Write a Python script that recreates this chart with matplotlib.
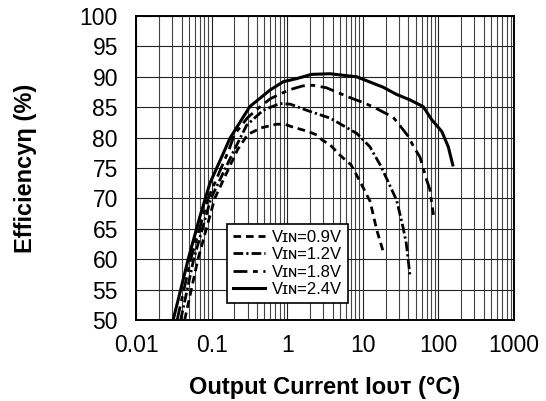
import numpy as np
import matplotlib
matplotlib.use("Agg")
import matplotlib.pyplot as plt
from matplotlib.ticker import FixedLocator, LogLocator, NullFormatter

plt.rcParams['font.family'] = ['Liberation Sans', 'DejaVu Sans']
plt.rcParams['lines.scale_dashes'] = False

# efficiency curves (x = output current, y = efficiency %)
x_09 = [0.044, 0.066, 0.11, 0.22, 0.30, 0.45, 0.72, 0.93, 1.14, 1.47, 1.9, 2.5, 2.9, 3.7, 5.0, 7.0, 9.0, 12.5, 15.3, 19.2]
y_09 = [50, 60, 70, 78, 80.5, 81.6, 82.2, 82.2, 81.8, 81.4, 81.0, 80.4, 79.6, 78.8, 77.1, 75.5, 73.0, 69.5, 64.8, 60.7]

x_12 = [0.039, 0.058, 0.098, 0.20, 0.29, 0.48, 0.8, 1.1, 1.8, 3.7, 8.3, 12.4, 17, 21.7, 28, 34, 37.6, 42]
y_12 = [50, 60, 70, 78, 82, 84.5, 85.6, 85.5, 84.5, 83.2, 80.7, 78.5, 75.5, 72.7, 69.7, 65.3, 62.6, 57.4]

x_18 = [0.035, 0.053, 0.09, 0.17, 0.2, 0.3, 0.45, 0.6, 0.85, 1.1, 1.6, 2.2, 3.3, 4.7, 7, 10, 14, 20, 25, 30, 40, 47, 57, 63, 70, 77, 81, 86]
y_18 = [50, 60, 70, 78, 80.5, 83.3, 85.2, 86.4, 87.3, 87.9, 88.5, 88.6, 88.2, 87.4, 86.5, 85.8, 85.0, 84.0, 83.4, 82.2, 80.2, 78.5, 76.8, 75, 73, 71.5, 69.5, 67.3]

x_24 = [0.031, 0.039, 0.049, 0.07, 0.095, 0.15, 0.175, 0.32, 0.59, 0.89, 1.33, 2.1, 3.7, 8.3, 15.3, 18.5, 28, 42, 63, 81, 111, 135, 155]
y_24 = [50, 55, 60, 67, 72.5, 78, 79.9, 85.1, 87.8, 89.2, 89.7, 90.4, 90.5, 90.0, 88.7, 88.3, 87.1, 86.2, 85.1, 83.0, 81.0, 78.5, 75.5]

x_ticks = [0.01, 0.1, 1, 10, 100, 1000]
x_ticklabels = ['0.01', '0.1', '1', '10', '100', '1000']
y_ticks = list(range(50, 101, 5))

labels = ['V\u026a\u0274=0.9V', 'V\u026a\u0274=1.2V', 'V\u026a\u0274=1.8V', 'V\u026a\u0274=2.4V']

fig = plt.figure(figsize=(5.46, 4.01), dpi=100)
ax = fig.add_axes([136/546, 1-320/401, 378/546, 304/401])

lw = 2.0
ax.plot(x_09, y_09, color='black', lw=lw, linestyle=(0, (5.5, 3.5)), label=labels[0])
ax.plot(x_12, y_12, color='black', lw=lw, linestyle=(0, (7, 2.2, 1.6, 2.2)), label=labels[1])
ax.plot(x_18, y_18, color='black', lw=lw, linestyle=(0, (10, 4, 3.5, 4)), label=labels[2])
ax.plot(x_24, y_24, color='black', lw=2.2, linestyle='-', label=labels[3])

ax.set_xscale('log')
ax.set_xlim(0.01, 1000)
ax.set_ylim(50, 100)
ax.xaxis.set_major_locator(FixedLocator(x_ticks))
ax.set_xticklabels(x_ticklabels)
ax.xaxis.set_minor_locator(LogLocator(base=10, subs=np.arange(2, 10)))
ax.xaxis.set_minor_formatter(NullFormatter())
ax.set_yticks(y_ticks)

ax.grid(which='major', color='#222222', lw=0.8)
ax.grid(which='minor', axis='x', color='#444444', lw=0.8)
ax.set_axisbelow(True)

ax.tick_params(which='both', length=0, labelsize=16.5)
ax.tick_params(axis='x', pad=10)
ax.tick_params(axis='y', pad=13)
for s in ax.spines.values():
    s.set_linewidth(1.4)

ax.set_xlabel('Output Current I\u1d0f\u1d1c\u1d1b (\u00b0C)', fontsize=17, fontweight='bold')
ax.set_ylabel('Efficiency\u03b7 (%)', fontsize=17, fontweight='bold')
ax.xaxis.set_label_coords(0.5, -0.185)
ax.yaxis.set_label_coords(-0.262, 0.5)

leg = ax.legend(loc='lower left', bbox_to_anchor=(0.241, 0.056), fontsize=12,
                frameon=True, fancybox=False, framealpha=1, edgecolor='black',
                handlelength=1.9, handletextpad=0.45, labelspacing=0.15,
                borderpad=0.35, borderaxespad=0)
leg.get_frame().set_linewidth(1.2)

fig.savefig('out.png', dpi=100)
